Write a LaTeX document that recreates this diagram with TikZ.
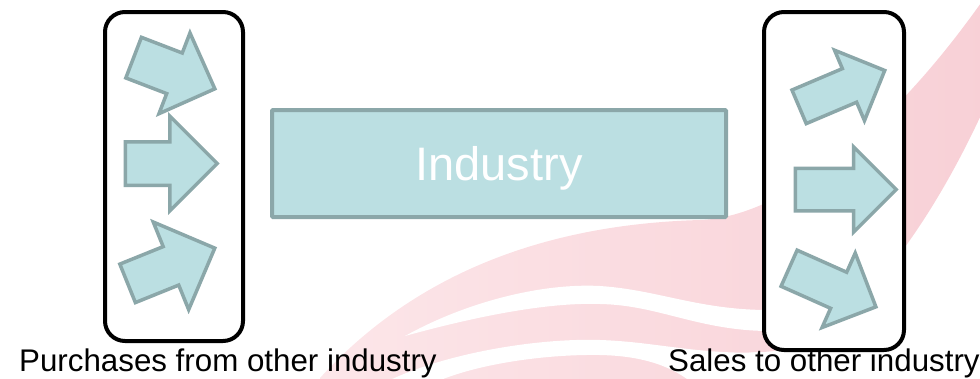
\documentclass[tikz,border=0pt]{standalone}
\usepackage{fontspec}
\setmainfont{Liberation Sans}
\usetikzlibrary{shapes.arrows}

\definecolor{flowfill}{RGB}{187,223,226}
\definecolor{flowline}{RGB}{139,167,169}
\definecolor{wavedark}{RGB}{238,160,173}
\definecolor{wavelight}{RGB}{252,230,233}
\definecolor{wavemid}{RGB}{248,208,214}

\tikzset{
  flow/.style={single arrow, draw=flowline, fill=flowfill, line width=3.5pt,
    inner xsep=0pt, minimum width=0pt, anchor=tail},
  holder/.style={draw=black, line width=4pt, fill=white, rounded corners=20pt},
  plant/.style={draw=flowline, fill=flowfill, line width=4pt, rounded corners=1pt,
    text=white, text depth=0pt, font=\fontsize{47}{56}\selectfont},
  sidetext/.style={inner sep=0pt, anchor=base west, font=\fontsize{31.3}{38}\selectfont}
}

\begin{document}
\begin{tikzpicture}[x=1pt, y=-1pt]
\useasboundingbox (0,0) rectangle (980,378);

%Background wave:
\shade[left color=wavelight, middle color=wavedark, right color=wavemid]
  (320,378) .. controls (400,290) and (520,225) .. (700,220)
  .. controls (770,218) and (880,150) .. (990,-10)
  -- (990,95)
  .. controls (940,210) and (850,352) .. (760,352)
  .. controls (720,352) and (710,378) .. (700,390)
  -- (320,390) -- cycle;
\fill[white] (405,336) .. controls (470,300) and (545,283) .. (600,286)
  .. controls (660,290) and (700,311) .. (775,310)
  -- (775,331) .. controls (700,332) and (660,305) .. (600,304)
  .. controls (545,302) and (470,318) .. (405,336) -- cycle;
\fill[white] (390,380) .. controls (450,352) and (540,338) .. (600,340)
  .. controls (660,342) and (700,356) .. (775,352)
  -- (775,390) -- (700,390) .. controls (680,370) and (650,356) .. (600,355)
  .. controls (540,354) and (460,366) .. (420,390) -- cycle;

%Boxes:
\node (industry) [plant, minimum width=454pt, minimum height=107pt] at (499,163.5) {Industry};
\node (inbox) [holder, minimum width=138pt, minimum height=329pt] at (174,176.5) {};
\node (outbox) [holder, minimum width=140pt, minimum height=338pt] at (834,181) {};

%Purchases:
\node (in1) [flow, rotate=-21, minimum height=87pt, inner ysep=20pt, single arrow head extend=21.5pt] at (132,57) {};
\node (in2) [flow, minimum height=92pt, inner ysep=20pt, single arrow head extend=25.5pt] at (123.5,163.5) {};
\node (in3) [flow, rotate=22, minimum height=94pt, inner ysep=19pt, single arrow head extend=26.5pt] at (126,284) {};

%Sales:
\node (out1) [flow, rotate=23, minimum height=93pt, inner ysep=16.5pt, single arrow head extend=20pt] at (797.5,107.5) {};
\node (out2) [flow, minimum height=101pt, inner ysep=19.5pt, single arrow head extend=21.5pt] at (793.5,189.5) {};
\node (out3) [flow, rotate=-24, minimum height=95pt, inner ysep=18pt, single arrow head extend=21pt] at (787.5,267.5) {};

\node (buylabel) [sidetext] at (19,371) {Purchases from other industry};
\node (selllabel) [sidetext] at (668,371) {Sales to other industry};

\end{tikzpicture}
\end{document}
